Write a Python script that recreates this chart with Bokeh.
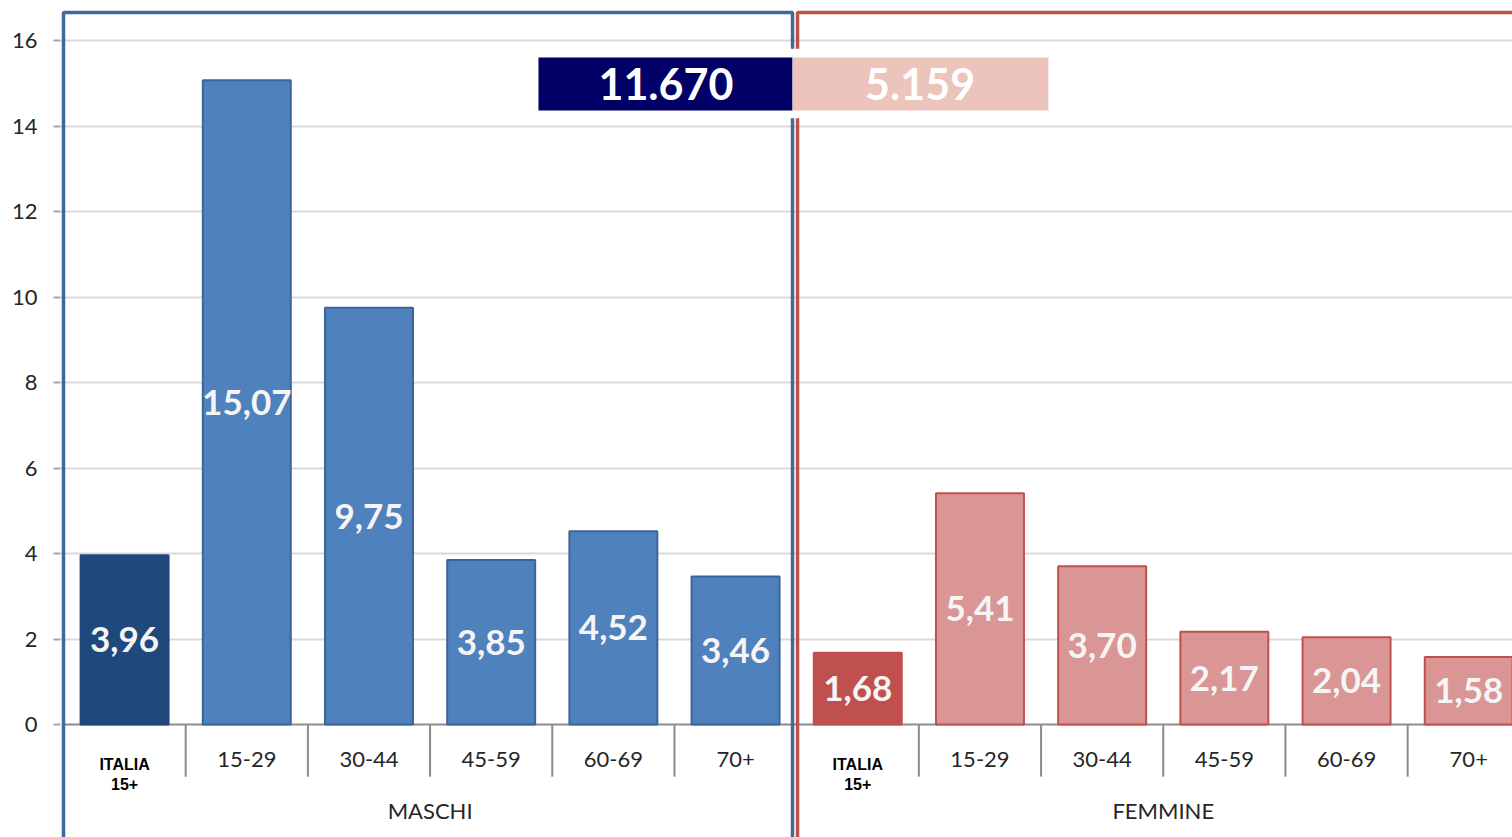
from bokeh.plotting import figure
from bokeh.models import ColumnDataSource, Range1d, FixedTicker
from bokeh.core.properties import value
from bokeh.embed import file_html
from bokeh.resources import INLINE

# ---- data ----
age_groups = ["ITALIA\n15+", "15-29", "30-44", "45-59", "60-69", "70+"]
maschi = [3.96, 15.07, 9.75, 3.85, 4.52, 3.46]
femmine = [1.68, 5.41, 3.70, 2.17, 2.04, 1.58]
group_names = ["MASCHI", "FEMMINE"]
totali = ["11.670", "5.159"]
y_ticks = [0, 2, 4, 6, 8, 10, 12, 14, 16]

# ---- styling ----
M_TOT, M_BAR, M_EDGE = "#1f497d", "#4f81bd", "#3a6599"
F_TOT, F_BAR, F_EDGE = "#c0504d", "#d99694", "#c0504d"
PANEL_M, PANEL_F = "#41699b", "#c0504d"
TXT = "#262626"
FONT = "Lato"

n = len(age_groups)
xs, tops, fills, lines, labels = [], [], [], [], []
for g, vals in enumerate([maschi, femmine]):
    for i, v in enumerate(vals):
        xs.append(g * n + i + 0.5)
        tops.append(v)
        if g == 0:
            fills.append(M_TOT if i == 0 else M_BAR)
            lines.append(M_TOT if i == 0 else M_EDGE)
        else:
            fills.append(F_TOT if i == 0 else F_BAR)
            lines.append(F_EDGE)
        labels.append(f"{v:.2f}".replace(".", ","))
src = ColumnDataSource(dict(x=xs, top=tops, fill=fills, line=lines, label=labels,
                            ymid=[t / 2 for t in tops]))

W, H = 1512, 837
p = figure(width=W, height=H, output_backend="svg", toolbar_location=None,
           x_range=Range1d(-0.0245, 11.858), y_range=Range1d(-2.643, 16.936),
           min_border_left=60, min_border_right=0, min_border_top=0, min_border_bottom=0)
p.background_fill_color = "white"
p.border_fill_color = "white"
p.outline_line_color = None
p.xaxis.visible = False
p.xgrid.visible = False

p.yaxis.ticker = FixedTicker(ticks=y_ticks)
p.yaxis.axis_line_color = None
p.yaxis.major_tick_in = 0
p.yaxis.major_tick_out = 7
p.yaxis.major_tick_line_color = "#a6a6a6"
p.yaxis.major_tick_line_width = 2
p.yaxis.minor_tick_line_color = None
p.yaxis.major_label_standoff = 16
p.yaxis.major_label_text_font = FONT
p.yaxis.major_label_text_font_size = "22px"
p.yaxis.major_label_text_color = TXT
p.ygrid.ticker = FixedTicker(ticks=[t for t in y_ticks if t > 0])
p.ygrid.grid_line_color = "#d9d9d9"
p.ygrid.grid_line_width = 2

# baseline and category separators
p.segment(x0=[0], y0=[0], x1=[2 * n], y1=[0], line_color="#8c8c8c", line_width=2)
sep_x = [k for k in range(1, 2 * n) if k != n]
p.segment(x0=sep_x, y0=[0] * len(sep_x), x1=sep_x, y1=[-1.22] * len(sep_x),
          line_color="#8c8c8c", line_width=2)

# bars
p.vbar(x="x", top="top", bottom=0, width=0.72, source=src,
       fill_color="fill", line_color="line", line_width=2)
p.text(x="x", y="ymid", text="label", source=src, text_align="center",
       text_baseline="middle", text_color="#f5f5f5", text_font=value(FONT),
       text_font_style="bold", text_font_size="35px")

# category labels
cat_x, cat_y, cat_t = [], [], []
it_x, it_y, it_t = [], [], []
for g in range(2):
    for i, c in enumerate(age_groups):
        if "\n" in c:
            a, b = c.split("\n")
            it_x += [g * n + i + 0.5] * 2
            it_y += [-0.94, -1.40]
            it_t += [a, b]
        else:
            cat_x.append(g * n + i + 0.5)
            cat_y.append(-0.82)
            cat_t.append(c)
p.text(x=cat_x, y=cat_y, text=cat_t, text_align="center", text_baseline="middle",
       text_color=TXT, text_font=value(FONT), text_font_size="22px")
p.text(x=it_x, y=it_y, text=it_t, text_align="center", text_baseline="middle",
       text_color="black", text_font=value("Liberation Sans"), text_font_style="bold",
       text_font_size="16px")
p.text(x=[n / 2, n + n / 2], y=[-2.02, -2.02], text=group_names, text_align="center",
       text_baseline="middle", text_color=TXT, text_font=value(FONT), text_font_size="22px")

# panel borders
top_v = 16.655
p.line(x=[0, 0, 5.966, 5.966], y=[-3, top_v, top_v, -3], line_color=PANEL_M, line_width=3.5)
p.line(x=[6.007, 6.007, 12.5], y=[-3, top_v, top_v], line_color=PANEL_F, line_width=3.5)

# header totals
p.quad(left=[3.82], right=[8.13], bottom=[14.18], top=[15.81], fill_color="white", line_color=None)
p.quad(left=[3.887, 5.966], right=[5.966, 8.06], bottom=[14.36, 14.36], top=[15.60, 15.60],
       fill_color=["#000066", "#ecc4bc"], line_color=None)
p.text(x=[4.93, 7.01], y=[14.98, 14.98], text=totali, text_align="center",
       text_baseline="middle", text_color="white", text_font=value(FONT),
       text_font_style="bold", text_font_size="43px")

open("out.html", "w").write(file_html(p, INLINE))
